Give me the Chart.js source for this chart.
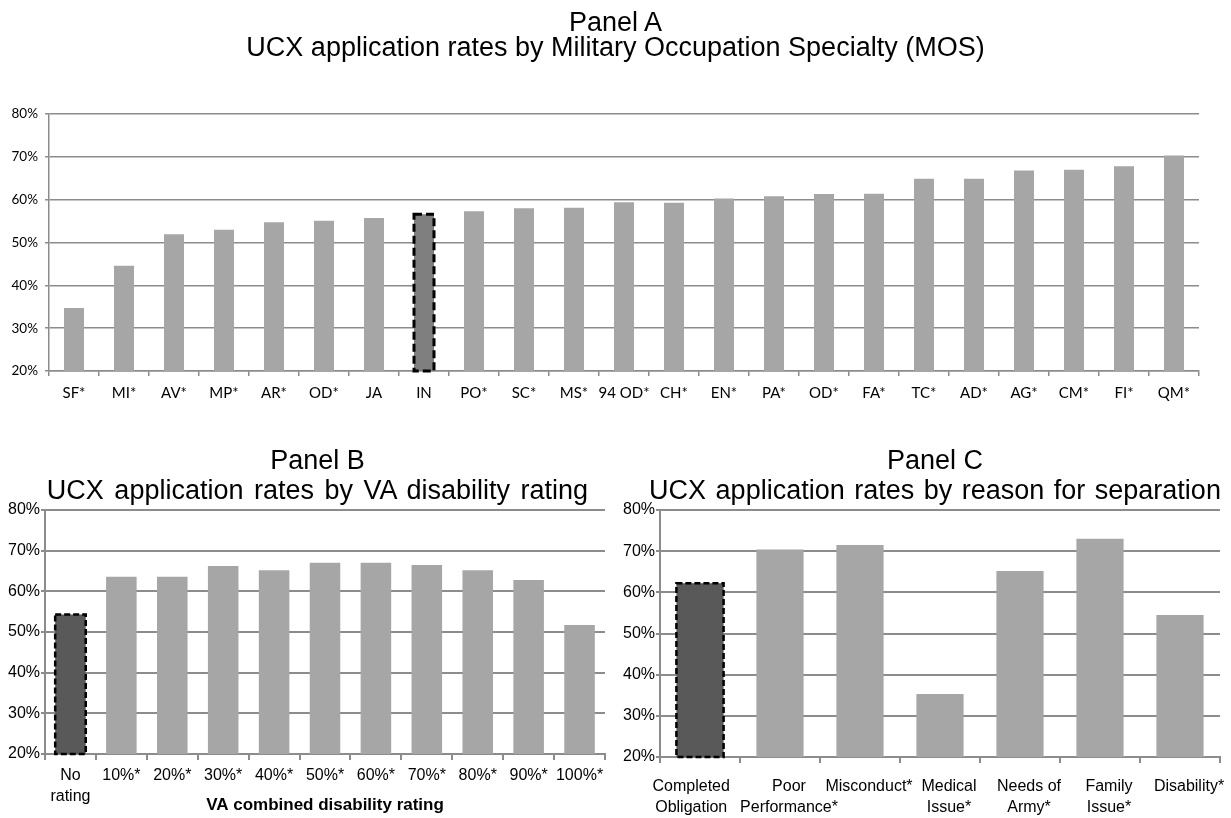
<!DOCTYPE html>
<html>
<head>
<meta charset="utf-8">
<script src="https://cdn.jsdelivr.net/npm/chart.js@4.4.1/dist/chart.umd.min.js"></script>
<style>
  body { margin: 0; background: #fff; width: 1231px; height: 818px; overflow: hidden; position: relative; }
  canvas { position: absolute; }
  .ttl { position: absolute; text-align: center; color: #000; font-family: 'Liberation Sans', Arial, sans-serif; white-space: nowrap; }
</style>
</head>
<body>
<canvas id="panelA" width="1231" height="420" style="left:0;top:0"></canvas>
<canvas id="panelB" width="615" height="378" style="left:0;top:440px"></canvas>
<canvas id="panelC" width="616" height="378" style="left:615px;top:440px"></canvas>

<div class="ttl" style="left:0;width:1231px;top:10px;font-size:27px;line-height:25px">Panel A<br>UCX application rates by Military Occupation Specialty (MOS)</div>
<div class="ttl" style="left:10px;width:615px;top:445px;font-size:27px;line-height:30px">Panel B<br><span style="word-spacing:3px">UCX application rates by VA disability rating</span></div>
<div class="ttl" style="left:630px;width:610px;top:445px;font-size:27px;line-height:30px">Panel C<br><span style="word-spacing:2px">UCX application rates by reason for separation</span></div>

<script>
// Panel A - rates by MOS
var mosLabels = ['SF*', 'MI*', 'AV*', 'MP*', 'AR*', 'OD*', 'JA', 'IN', 'PO*', 'SC*', 'MS*', '94 OD*',
                 'CH*', 'EN*', 'PA*', 'OD*', 'FA*', 'TC*', 'AD*', 'AG*', 'CM*', 'FI*', 'QM*'];
var mosRates = [34.7, 44.6, 51.9, 53.0, 54.7, 55.1, 55.7, 56.6, 57.3, 58.0, 58.1, 59.4,
                59.3, 60.3, 60.8, 61.3, 61.4, 64.9, 64.9, 66.8, 67.0, 67.8, 70.3];
var mosBase = 7; // IN = reference group

// Panel B - rates by VA disability rating
var vaLabels = [['No', 'rating'], '10%*', '20%*', '30%*', '40%*', '50%*', '60%*', '70%*', '80%*', '90%*', '100%*'];
var vaRates = [54.3, 63.6, 63.6, 66.2, 65.2, 67.0, 67.0, 66.5, 65.2, 62.8, 51.7];
var vaBase = 0;

// Panel C - rates by reason for separation
var sepLabels = [['Completed', 'Obligation'], ['Poor', 'Performance*'], 'Misconduct*', ['Medical', 'Issue*'],
                 ['Needs of', 'Army*'], ['Family', 'Issue*'], 'Disability*'];
var sepRates = [62.2, 70.4, 71.5, 35.3, 65.2, 73.0, 54.5];
var sepBase = 0;

var yTicks = [20, 30, 40, 50, 60, 70, 80];

var arial = 'Liberation Sans, Arial, sans-serif';
var calibri = 'Lato, Open Sans, sans-serif';
var gridCol = '#8c8c8c';

// bars in chart.js can't do dashed borders, so stroke it after drawing
var dashedBorder = {
  id: 'dashedBorder',
  afterDatasetsDraw: function(chart, args, opts) {
    var bar = chart.getDatasetMeta(0).data[opts.index];
    var p = bar.getProps(['x', 'y', 'base', 'width'], true);
    var bottom = Math.min(p.base, chart.chartArea.bottom);
    var ctx = chart.ctx;
    ctx.save();
    ctx.setLineDash(opts.dash);
    ctx.lineWidth = opts.width;
    ctx.strokeStyle = '#000';
    ctx.strokeRect(p.x - p.width / 2, p.y, p.width, bottom - p.y);
    ctx.restore();
  }
};

function colours(n, base, dark) {
  var c = [];
  for (var i = 0; i < n; i++) c.push(i === base ? dark : '#a6a6a6');
  return c;
}

function makeChart(id, o) {
  return new Chart(document.getElementById(id), {
    type: 'bar',
    data: {
      labels: o.labels,
      datasets: [{
        data: o.data,
        backgroundColor: colours(o.data.length, o.base, o.dark),
        barPercentage: o.barPct,
        categoryPercentage: 1
      }]
    },
    plugins: [dashedBorder],
    options: {
      responsive: false,
      animation: false,
      layout: { padding: { left: 0, right: o.padRight, top: o.padTop, bottom: 0 } },
      plugins: {
        legend: { display: false },
        tooltip: { enabled: false },
        dashedBorder: { index: o.base, dash: o.dash, width: o.dashW }
      },
      scales: {
        y: {
          min: 20, max: 80,
          afterBuildTicks: function(s) { s.ticks = yTicks.map(function(v) { return { value: v }; }); },
          afterFit: function(s) { s.width = o.yWidth; },
          ticks: {
            callback: function(v) { return v + '%'; },
            color: '#000',
            font: { family: o.tickFont, size: o.yFontSize },
            padding: o.yPad
          },
          grid: { color: gridCol, lineWidth: o.gridW, tickLength: 4 },
          border: { color: gridCol, width: o.gridW }
        },
        x: {
          afterFit: function(s) { s.height = o.xHeight; },
          ticks: {
            autoSkip: false, maxRotation: 0,
            color: '#000',
            font: { family: o.tickFont, size: o.xFontSize, lineHeight: 1.3 },
            padding: o.xPad,
            labelOffset: o.labelOffset || 0,
            callback: o.xLabel || function(v) { return this.getLabelForValue(v); }
          },
          grid: { display: true, drawOnChartArea: false, offset: true, tickLength: o.xTick, color: gridCol, lineWidth: o.gridW },
          border: { color: gridCol, width: o.gridW },
          title: o.xTitle
        }
      }
    }
  });
}

makeChart('panelA', {
  labels: mosLabels, data: mosRates, base: mosBase, dark: '#7f7f7f', barPct: 0.4,
  padTop: 114, padRight: 32, yWidth: 49, xHeight: 49,
  tickFont: calibri, yFontSize: 13.5, xFontSize: 15, yPad: 7, xPad: 7, xTick: 5,
  gridW: 1.5, dash: [8, 4], dashW: 3,
  xTitle: { display: false }
});

makeChart('panelB', {
  labels: vaLabels, data: vaRates, base: vaBase, dark: '#595959', barPct: 0.6,
  padTop: 70, padRight: 10, yWidth: 45, xHeight: 64,
  tickFont: arial, yFontSize: 16, xFontSize: 16, yPad: 1, xPad: 5, xTick: 6,
  gridW: 2, dash: [6, 3], dashW: 2.5,
  xTitle: {
    display: true, text: 'VA combined disability rating', color: '#000',
    font: { family: arial, size: 17, weight: 'bold' },
    padding: { top: 0, bottom: 2 }
  }
});

makeChart('panelC', {
  labels: sepLabels, data: sepRates, base: sepBase, dark: '#595959', barPct: 0.59,
  padTop: 70, padRight: 11, yWidth: 45, xHeight: 61,
  tickFont: arial, yFontSize: 16, xFontSize: 16, yPad: 1, xPad: 13, xTick: 6,
  gridW: 2, dash: [6, 3], dashW: 2.5,
  labelOffset: 9,
  // excel nudged the first label left so it doesn't run into "Performance*"
  xLabel: function(v) {
    var l = this.getLabelForValue(v);
    if (v === 0) return l.map(function(s) { return s + '        '; });
    return l;
  },
  xTitle: { display: false }
});
</script>
</body>
</html>
